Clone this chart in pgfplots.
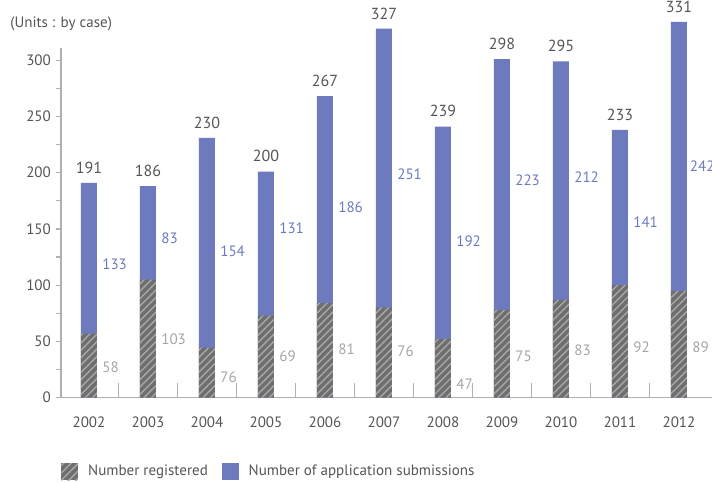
\documentclass[border=0pt]{standalone}
\usepackage{pgfplots}
\pgfplotsset{compat=1.18}
\usepackage{fontspec}
\setmainfont{PT Sans}
\usetikzlibrary{patterns.meta}
\definecolor{barblue}{HTML}{6D7BBE}
\definecolor{bargray}{HTML}{6E6E6E}
\definecolor{stripe}{HTML}{A8A8A8}
\definecolor{axisgray}{HTML}{B0B0B0}
\definecolor{txtgray}{HTML}{555555}
\definecolor{lblgray}{HTML}{A5A5A5}
\tikzset{graybar/.style={draw=none, preaction={fill=bargray},
  pattern={Lines[angle=45,distance=2.6pt,line width=0.7pt]}, pattern color=stripe}}
\pgfplotsset{sqlegend/.style={legend image code/.code={\path[##1] (0pt,-4.2pt) rectangle (8.4pt,4.2pt);}}}
\begin{document}
\begin{tikzpicture}[font=\fontsize{7.5}{9}\selectfont]
\begin{axis}[
  x=29.45pt, y=0.5615pt,
  xmin=-0.475, xmax=10.56, ymin=0, ymax=311,
  axis x line=bottom, axis y line=left,
  axis line style={axisgray, line width=0.6pt, -},
  clip=false,
  xtick={0,...,10},
  xticklabels={2002,2003,2004,2005,2006,2007,2008,2009,2010,2011,2012},
  xtick style={draw=none},
  xticklabel style={text=txtgray, yshift=-3.5pt},
  ytick={0,25,...,300},
  yticklabels={0,{},50,{},100,{},150,{},200,{},250,{},300},
  ytick style={axisgray, line width=0.6pt},
  tick align=outside, major tick length=2.5pt,
  yticklabel style={text=txtgray, xshift=1pt},
  legend style={at={(0,-0.212)}, anchor=west, draw=none, fill=none,
    legend columns=2, inner xsep=0pt, text=txtgray,
    font=\fontsize{7.5}{9}\selectfont,
    /tikz/every odd column/.append style={column sep=3pt},
    /tikz/every even column/.append style={column sep=5pt}},
  legend cell align=left,
]
% full bars: total heights
\addplot[forget plot, ybar, bar width=8pt, bar shift=0pt, fill=barblue, draw=none]
  coordinates {(0,191) (1,188) (2,231) (3,201) (4,268) (5,328) (6,241) (7,301) (8,299) (9,238) (10,334)};
% registered part
\addplot[forget plot, ybar, bar width=8pt, bar shift=0pt, graybar]
  coordinates {(0,57) (1,105) (2,44.5) (3,73) (4,84) (5,80) (6,52) (7,78) (8,87) (9,100) (10,95)};
% category separator ticks
\addplot[forget plot, ycomb, mark=none, axisgray, line width=0.6pt]
  coordinates {(0.5,13.4) (1.5,13.4) (2.5,13.4) (3.5,13.4) (4.5,13.4) (5.5,13.4) (6.5,13.4) (7.5,13.4) (8.5,13.4) (9.5,13.4)};
% total labels
\addplot[forget plot, draw=none, mark=none, nodes near coords, point meta=explicit symbolic,
  nodes near coords style={anchor=south, inner sep=0pt, yshift=4.5pt, text=txtgray, font=\fontsize{8}{9}\selectfont}]
  coordinates {(0,191) [191] (1,188) [186] (2,231) [230] (3,201) [200] (4,268) [267] (5,328) [327]
               (6,241) [239] (7,301) [298] (8,299) [295] (9,238) [233] (10,334) [331]};
% application labels
\addplot[forget plot, draw=none, mark=none, nodes near coords, point meta=explicit symbolic,
  nodes near coords style={anchor=west, inner sep=0pt, text=barblue}]
  coordinates {(0.22,119) [133] (1.22,142) [83] (2.22,130) [154] (3.22,151) [131] (4.22,169) [186]
               (5.22,199) [251] (6.22,139) [192] (7.22,193) [223] (8.22,196) [212] (9.22,156) [141] (10.18,206) [242]};
% registered labels
\addplot[forget plot, draw=none, mark=none, nodes near coords, point meta=explicit symbolic,
  nodes near coords style={anchor=west, inner sep=0pt, text=lblgray}]
  coordinates {(0.22,27) [58] (1.22,52) [103] (2.22,18) [76] (3.22,36.5) [69] (4.22,43) [81]
               (5.22,41) [76] (6.22,12) [47] (7.22,36.5) [75] (8.22,42) [83] (9.22,44.5) [92] (10.22,44.5) [89]};
\addlegendimage{graybar, sqlegend}
\addlegendentry{Number registered}
\addlegendimage{fill=barblue, draw=none, sqlegend}
\addlegendentry{Number of application submissions}
\node[anchor=west, inner sep=0pt, text=txtgray] at (axis cs:-1.34,332) {(Units : by case)};
\coordinate (bl) at (axis cs:-1.508,-75.7);
\coordinate (tr) at (axis cs:10.56,353.5);
\end{axis}
\pgfresetboundingbox
\path[use as bounding box] (bl) rectangle (tr);
\end{tikzpicture}
\end{document}
